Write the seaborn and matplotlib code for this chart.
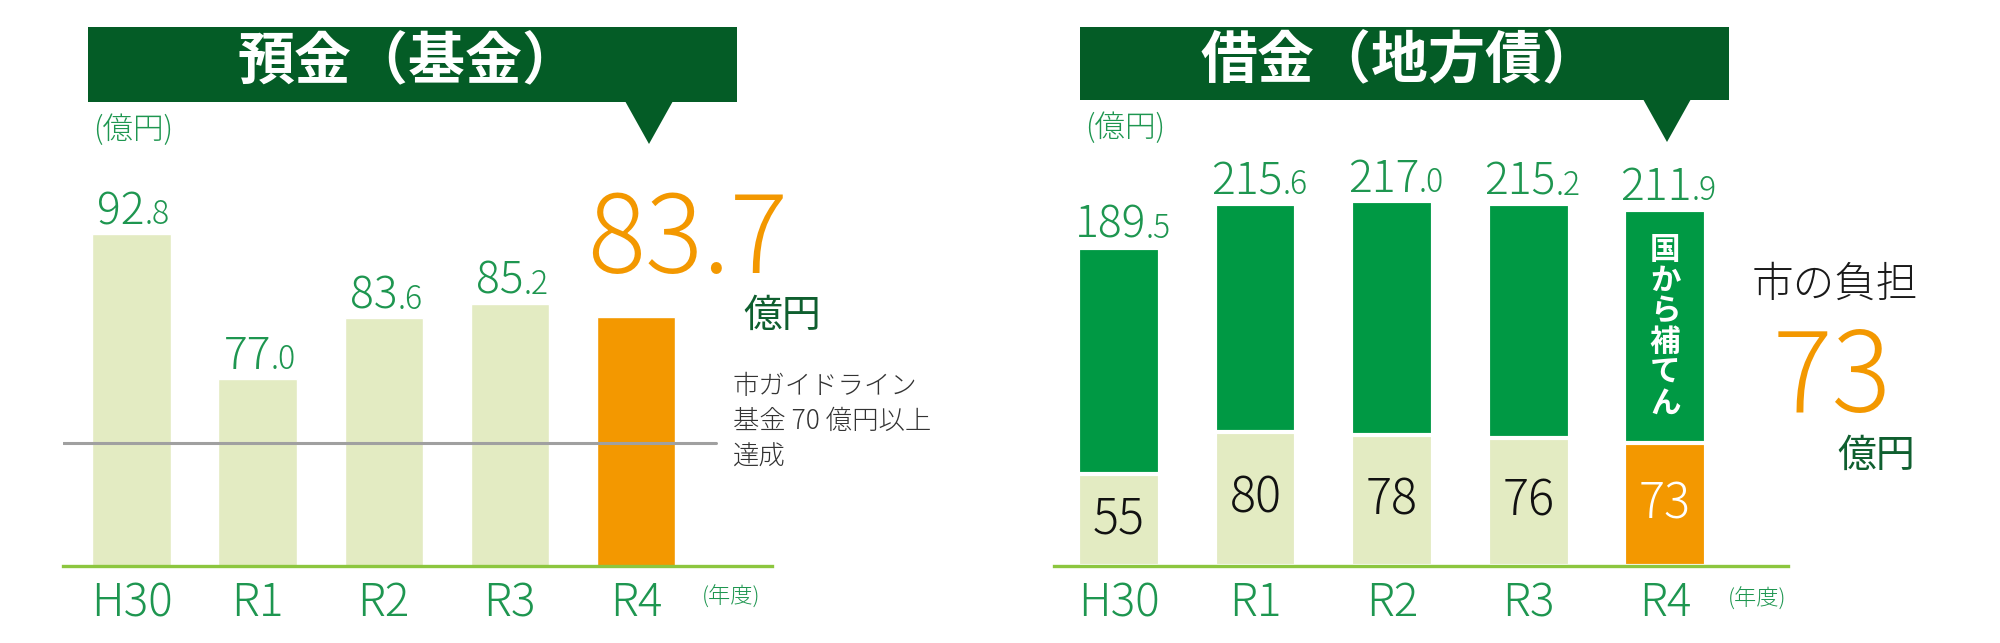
import pandas as pd
import matplotlib.pyplot as plt
import seaborn as sns
from matplotlib.patches import Rectangle, Polygon

# data
years = ["H30", "R1", "R2", "R3", "R4"]
fund = [92.8, 77.0, 83.6, 85.2, 83.7]          # 預金（基金） 億円
fund_guideline = 70                              # 市ガイドライン
debt_total = [189.5, 215.6, 217.0, 215.2, 211.9]  # 借金（地方債） 億円
debt_city = [55, 80, 78, 76, 73]                 # 市の負担 億円

BANNER = "#045c26"
GREEN_TXT = "#1e9650"
DARK_TXT = "#0f5f2f"
BAR_GREEN = "#009944"
LIGHT = "#e3ebc2"
ORANGE = "#f39800"
BASE = "#8cc63f"

sns.set_theme(style="white")
plt.rcParams['font.family'] = ['Noto Sans CJK JP', 'DejaVu Sans']
plt.rcParams['font.weight'] = 'light'

W, H = 2000, 643
fig = plt.figure(figsize=(20, 6.43), dpi=100)
fig.patch.set_facecolor("white")


def box(x0, y0, x1, y1):
    return [x0 / W, 1 - y1 / H, (x1 - x0) / W, (y1 - y0) / H]


# overlay in pixel coords for banners and callouts
ov = fig.add_axes([0, 0, 1, 1])
ov.set_xlim(0, W)
ov.set_ylim(H, 0)
ov.axis("off")


def banner(x0, x1, y0, y1, tip, title, tx):
    ov.add_patch(Rectangle((x0, y0), x1 - x0, y1 - y0, color=BANNER, lw=0))
    ov.add_patch(Polygon([(tip - 24, y1 - 1), (tip + 24, y1 - 1), (tip, y1 + 42)],
                         color=BANNER, lw=0))
    ov.text(tx, (y0 + y1) / 2 - 2, title, color="white", fontsize=41,
            fontweight="bold", ha="center", va="center")


def value_label(ax, x, v, color=GREEN_TXT):
    ip, dp = f"{v:.1f}".split(".")
    shift = (27 * len(ip) - 27) / 2 * 0.72
    ax.annotate(ip, (x, v), xytext=(shift, 7), textcoords="offset points",
                ha="right", va="baseline", fontsize=32, color=color)
    ax.annotate("." + dp, (x, v), xytext=(shift, 7), textcoords="offset points",
                ha="left", va="baseline", fontsize=23, color=color)


def style_axis(ax):
    sns.despine(ax=ax, left=True)
    ax.spines["bottom"].set_color(BASE)
    ax.spines["bottom"].set_linewidth(2.4)
    ax.set_yticks([])
    ax.set_xlabel("")
    ax.set_ylabel("")
    ax.tick_params(axis="x", length=0, pad=10, labelsize=33, labelcolor=GREEN_TXT)
    ax.patch.set_visible(False)


# ---- 預金（基金）
banner(88, 737, 27, 102, 649, "預金（基金）", 408)
ax1 = fig.add_axes(box(63, 150, 772, 566))
df1 = pd.DataFrame({"year": years, "fund": fund})
sns.barplot(data=df1, x="year", y="fund", hue="year",
            palette=[LIGHT] * 4 + [ORANGE], legend=False, width=0.62,
            saturation=1, ax=ax1)
ax1.set_ylim(56.5, 102)
ax1.set_xlim(-0.543, 5.08)
ax1.axhline(fund_guideline, xmin=0, xmax=(716 - 63) / 709, color="#a0a0a0",
            lw=2.2, zorder=3)
for i, v in enumerate(fund[:-1]):
    value_label(ax1, i, v)
style_axis(ax1)

ov.text(93, 130, "(億円)", va="center", fontsize=22, color=GREEN_TXT)
ov.text(702, 597, "(年度)", va="center", fontsize=16, color=GREEN_TXT)
ov.text(688, 273, f"{fund[-1]:.1f}", ha="center", va="baseline", fontsize=78,
        color=ORANGE)
ov.text(782, 316, "億円", ha="center", va="center", fontsize=28,
        fontweight="normal", color=DARK_TXT)
ov.text(733, 421, "市ガイドライン\n基金 70 億円以上\n達成", ha="left", va="center",
        fontsize=19, linespacing=1.33, color="#333333")

# ---- 借金（地方債）
banner(1080, 1729, 27, 100, 1667, "借金（地方債）", 1400)
ax2 = fig.add_axes(box(1054, 150, 1788, 566))
df2 = pd.DataFrame({"year": years, "total": debt_total, "city": debt_city})
sns.barplot(data=df2, x="year", y="total", color=BAR_GREEN, width=0.6,
            edgecolor="white", linewidth=3, saturation=1, ax=ax2)
sns.barplot(data=df2, x="year", y="city", hue="year",
            palette=[LIGHT] * 4 + [ORANGE], legend=False, width=0.6,
            edgecolor="white", linewidth=3, saturation=1, ax=ax2)
ax2.set_ylim(0, 247.6)
ax2.set_xlim(-0.476, 4.90)
for i, (t, c) in enumerate(zip(debt_total, debt_city)):
    value_label(ax2, i, t)
    ax2.text(i, c / 2, str(c), ha="center", va="center", fontsize=35,
             color="white" if i == len(years) - 1 else "#111111")
ax2.text(4, (debt_city[-1] + debt_total[-1]) / 2, "\n".join("国から補てん"),
         ha="center", va="center", color="white", fontsize=22,
         fontweight="bold", linespacing=0.95)
style_axis(ax2)

ov.text(1085, 128, "(億円)", va="center", fontsize=22, color=GREEN_TXT)
ov.text(1728, 599, "(年度)", va="center", fontsize=16, color=GREEN_TXT)
ov.text(1835, 285, "市の負担", ha="center", va="center", fontsize=30,
        color="#1a1a1a")
ov.text(1832, 412, f"{debt_city[-1]}", ha="center", va="baseline", fontsize=80,
        color=ORANGE)
ov.text(1876, 456, "億円", ha="center", va="center", fontsize=28,
        fontweight="normal", color=DARK_TXT)

fig.savefig("out.png", dpi=100)
